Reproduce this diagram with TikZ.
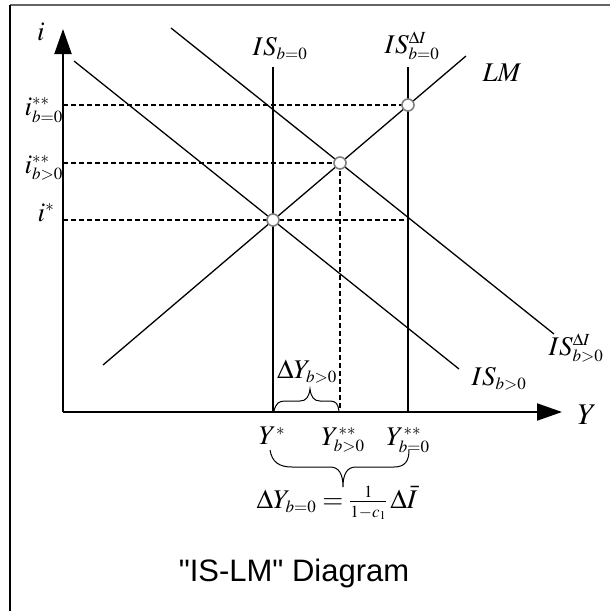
\documentclass[tikz,border=0pt]{standalone}
\usepackage{mathptmx}
\usepackage{fontspec}
\setmainfont{Liberation Serif}
\newfontfamily\arialfont{Liberation Sans}
\DeclareMathSizes{27}{27}{17}{12}
\DeclareMathSizes{30}{30}{19}{13}
\usetikzlibrary{arrows.meta}
\definecolor{ptgray}{RGB}{128,128,128}
\definecolor{framegray}{RGB}{100,100,100}
\tikzset{
  curve/.style={line width=1.3pt, black},
  axisline/.style={line width=2pt, black, -{Triangle[width=17pt,length=25pt]}},
  guide/.style={line width=1.3pt, dash pattern=on 5pt off 3pt, black},
  eq/.style={circle, draw=ptgray, fill=white, line width=1.6pt, minimum size=12pt, inner sep=0pt},
  lab/.style={font=\fontsize{27}{30}\selectfont, inner sep=0pt},
  biglab/.style={font=\fontsize{30}{33}\selectfont, inner sep=0pt},
  bracepath/.style={line width=1pt, black},
}
\begin{document}
\begin{tikzpicture}[x=1pt,y=-1pt]
\useasboundingbox (0,0) rectangle (610,611);
% frame (top and left edges only visible)
\coordinate (fTL) at (10,5);
\coordinate (fTR) at (610,5);
\coordinate (fBL) at (10,611);
\draw[framegray, line width=2pt] (fTL) -- (fTR);
\draw[black, line width=2pt] (fTL) -- (fBL);

% key points
\coordinate (O) at (63,412);
\coordinate (Ytip) at (562,412);
\coordinate (itip) at (63,29);
\coordinate (E1) at (273,220);
\coordinate (E2) at (340,163);
\coordinate (E3) at (408,105);
\coordinate (ia) at (63,105);
\coordinate (ib) at (63,163);
\coordinate (ic) at (63,220);
\coordinate (icEnd) at (408,220);
\coordinate (Yb) at (340,412);

% dashed guides
\draw[guide] (ia) -- (E3);
\draw[guide] (ib) -- (E2);
\draw[guide] (ic) -- (icEnd);
\draw[guide] (E2) -- (Yb);

% curves
\coordinate (LMa) at (103,365);
\coordinate (LMb) at (466,56);
\coordinate (ISa) at (74,61);
\coordinate (ISb) at (459,369);
\coordinate (ISDa) at (171,28);
\coordinate (ISDb) at (554,334);
\coordinate (IS0top) at (273,67);
\coordinate (IS0bot) at (273,412);
\coordinate (ISD0top) at (408,67);
\coordinate (ISD0bot) at (408,412);
\draw[curve] (LMa) -- (LMb);
\draw[curve] (ISa) -- (ISb);
\draw[curve] (ISDa) -- (ISDb);
\draw[curve] (IS0top) -- (IS0bot);
\draw[curve] (ISD0top) -- (ISD0bot);

% axes
\draw[axisline] (O) -- (itip);
\draw[axisline] (O) -- (Ytip);

% equilibrium points
\node[eq] (P1) at (E1) {};
\node[eq] (P2) at (E2) {};
\node[eq] (P3) at (E3) {};

% braces
\draw[bracepath] (274,411) .. controls (276,403) and (279,401) .. (285,401) -- (300,401) .. controls (306,401) and (309,397) .. (310,389)
  .. controls (311,397) and (314,401) .. (320,401) -- (330,401) .. controls (336,401) and (338,404) .. (339,411);
\draw[bracepath] (270,450) .. controls (272,462) and (279,467) .. (292,467) -- (330,467) .. controls (339,467) and (343,474) .. (343,487)
  .. controls (343,474) and (347,467) .. (356,467) -- (394,467) .. controls (405,467) and (409,461) .. (409,450);

% labels
\node[lab] (li) at (41,32) {$i$};
\node[lab, anchor=east] (lib0) at (63,110) {$i^{**}_{b=0}$};
\node[lab, anchor=east] (libp) at (63,168) {$i^{**}_{b>0}$};
\node[lab] (lis) at (46,213) {$i^{*}$};
\node[lab] (lIS0) at (280,49) {$IS_{b=0}$};
\node[lab] (lISD0) at (412,46) {$IS^{\Delta I}_{b=0}$};
\node[lab] (lLM) at (502,73) {$LM$};
\node[lab] (lISDp) at (576,348) {$IS^{\Delta I}_{b>0}$};
\node[lab] (lISp) at (499,379) {$IS_{b>0}$};
\node[biglab] (lY) at (587,415) {$Y$};
\node[lab] (lYs) at (272,436) {$Y^{*}$};
\node[lab] (lYbp) at (343,440) {$Y^{**}_{b>0}$};
\node[lab] (lYb0) at (408,440) {$Y^{**}_{b=0}$};
\node[lab] (ldYp) at (307,372) {$\Delta Y_{b>0}$};
\node[lab] (ldY0) at (337,503) {$\Delta Y_{b=0} = \frac{1}{1-c_1}\,\Delta\bar{I}$};
\node[font=\arialfont\fontsize{31}{36}\selectfont, inner sep=0pt] (title) at (294,573) {"IS-LM" Diagram};
\end{tikzpicture}
\end{document}
